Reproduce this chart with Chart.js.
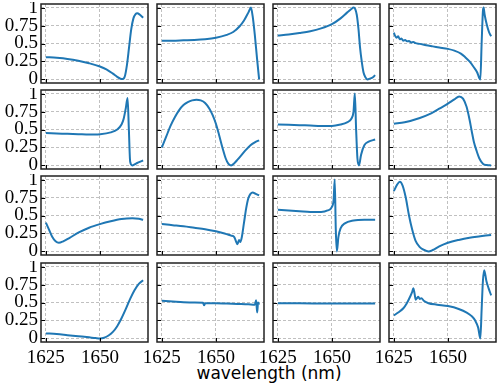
<!DOCTYPE html>
<html>
<head>
<meta charset="utf-8">
<script src="https://cdn.jsdelivr.net/npm/chart.js"></script>
<style>
  body { margin: 0; background: #fff; width: 498px; height: 385px; position: relative; overflow: hidden; }
  canvas { position: absolute; }
  #xlabel { position: absolute; left: 41px; width: 456px; top: 363px; text-align: center;
            font: 17px "DejaVu Sans", sans-serif; color: #000; }
</style>
</head>
<body>
<div id="xlabel">wavelength (nm)</div>
<script>
  const xTicks = [1625, 1650];
  const yTicks = [0, 0.25, 0.5, 0.75, 1];

  // row 1
  const wl00 = [1625, 1630, 1635, 1640, 1645, 1650, 1653, 1656, 1658, 1659.5, 1660.5, 1661.5, 1662.5, 1663.5, 1664.5, 1665.5, 1666.5, 1667.3, 1668.5, 1670];
  const tr00 = [0.31, 0.3, 0.285, 0.26, 0.225, 0.18, 0.14, 0.08, 0.035, 0.01, 0.005, 0.04, 0.2, 0.45, 0.7, 0.85, 0.91, 0.92, 0.9, 0.86];
  const wl01 = [1625, 1630, 1635, 1640, 1645, 1650, 1655, 1658, 1661, 1663, 1665, 1666.2, 1667, 1668, 1669, 1670];
  const tr01 = [0.54, 0.54, 0.545, 0.55, 0.56, 0.58, 0.62, 0.66, 0.74, 0.82, 0.93, 1.0, 0.88, 0.62, 0.3, 0.0];
  const wl02 = [1625, 1630, 1635, 1640, 1645, 1650, 1654, 1657, 1659, 1660, 1660.8, 1661.5, 1662.3, 1663, 1663.8, 1664.6, 1665.5, 1666.5, 1667.5, 1669, 1670];
  const tr02 = [0.61, 0.625, 0.645, 0.67, 0.71, 0.77, 0.85, 0.93, 0.98, 1.0, 0.98, 0.9, 0.7, 0.45, 0.25, 0.1, 0.03, 0.0, 0.01, 0.03, 0.06];
  const wl03 = [1625, 1625.7, 1626.3, 1627, 1627.7, 1628.5, 1629.3, 1630.2, 1631.1, 1632, 1633, 1634, 1635, 1637, 1640, 1643, 1646, 1650, 1653, 1656, 1658, 1660, 1662, 1663.5, 1664.5, 1665, 1665.6, 1666.2, 1666.5, 1667, 1668, 1669, 1670];
  const tr03 = [0.65, 0.6, 0.58, 0.6, 0.56, 0.57, 0.54, 0.55, 0.53, 0.535, 0.515, 0.52, 0.505, 0.495, 0.475, 0.46, 0.445, 0.425, 0.4, 0.36, 0.31, 0.25, 0.17, 0.1, 0.02, 0.0, 0.5, 0.95, 1.0, 0.9, 0.76, 0.66, 0.6];

  // row 2
  const wl10 = [1625, 1630, 1635, 1640, 1645, 1650, 1655, 1658, 1660, 1661, 1662, 1662.8, 1663.4, 1664, 1665, 1667, 1670];
  const tr10 = [0.45, 0.445, 0.44, 0.435, 0.43, 0.435, 0.46, 0.5, 0.57, 0.65, 0.8, 0.94, 0.5, 0.05, 0.0, 0.03, 0.07];
  const wl11 = [1625, 1627, 1629, 1631, 1633, 1635, 1637, 1639, 1641, 1643, 1645, 1647, 1648.5, 1650, 1651.5, 1653, 1654.5, 1655.8, 1657, 1658.5, 1660, 1662, 1664, 1666, 1668, 1670];
  const tr11 = [0.25, 0.4, 0.55, 0.67, 0.77, 0.84, 0.88, 0.905, 0.915, 0.905, 0.87, 0.79, 0.7, 0.58, 0.42, 0.25, 0.1, 0.02, 0.0, 0.03, 0.08, 0.15, 0.22, 0.28, 0.32, 0.35];
  const wl12 = [1625, 1630, 1635, 1640, 1645, 1650, 1654, 1657, 1659, 1660, 1660.6, 1661.2, 1661.8, 1662.5, 1663.5, 1665, 1667, 1670];
  const tr12 = [0.57, 0.565, 0.56, 0.555, 0.55, 0.55, 0.57, 0.6, 0.65, 0.75, 1.0, 0.5, 0.1, 0.0, 0.15, 0.28, 0.33, 0.36];
  const wl13 = [1625, 1630, 1637, 1642, 1646, 1650, 1653, 1655.2, 1657, 1658.6, 1660, 1661, 1662, 1663.3, 1664.5, 1666.3, 1668, 1670];
  const tr13 = [0.58, 0.6, 0.66, 0.72, 0.79, 0.86, 0.92, 0.96, 0.93, 0.82, 0.64, 0.48, 0.33, 0.2, 0.1, 0.02, 0.005, 0.0];

  // row 3
  const wl20 = [1625, 1626.5, 1628, 1629.5, 1631, 1633, 1636, 1640, 1645, 1650, 1655, 1660, 1665, 1668, 1670];
  const tr20 = [0.4, 0.3, 0.2, 0.14, 0.12, 0.14, 0.19, 0.26, 0.33, 0.38, 0.42, 0.45, 0.46, 0.455, 0.44];
  const wl21 = [1625, 1630, 1635, 1640, 1645, 1650, 1654, 1657, 1658.5, 1659.3, 1660, 1660.7, 1661.3, 1662, 1663, 1664, 1665, 1666, 1667, 1668.5, 1670];
  const tr21 = [0.38, 0.365, 0.35, 0.33, 0.31, 0.28, 0.25, 0.22, 0.2, 0.14, 0.1, 0.16, 0.13, 0.2, 0.4, 0.6, 0.74, 0.8, 0.82, 0.8, 0.78];
  const wl22 = [1625, 1630, 1635, 1640, 1645, 1648, 1650, 1650.8, 1651.3, 1651.8, 1652.3, 1653, 1654, 1656, 1660, 1665, 1670];
  const tr22 = [0.58, 0.57, 0.56, 0.55, 0.55, 0.57, 0.62, 0.72, 1.0, 0.3, 0.0, 0.2, 0.32, 0.39, 0.43, 0.44, 0.44];
  const wl23 = [1625, 1626.5, 1627.8, 1629, 1630.5, 1632, 1633.5, 1635, 1637, 1639, 1641, 1643, 1646, 1650, 1655, 1660, 1665, 1670];
  const tr23 = [0.84, 0.93, 0.97, 0.92, 0.75, 0.5, 0.3, 0.15, 0.06, 0.02, 0.0, 0.02, 0.07, 0.12, 0.16, 0.19, 0.21, 0.23];

  // row 4
  const wl30 = [1625, 1630, 1635, 1640, 1645, 1648, 1650, 1652, 1654, 1656, 1658, 1660, 1662, 1664, 1666, 1668, 1670];
  const tr30 = [0.07, 0.06, 0.045, 0.03, 0.015, 0.005, 0.0, 0.01, 0.04, 0.09, 0.17, 0.28, 0.41, 0.55, 0.67, 0.76, 0.81];
  const wl31 = [1625, 1630, 1635, 1640, 1644, 1644.6, 1645, 1650, 1655, 1660, 1665, 1668, 1668.6, 1669.1, 1669.5, 1670];
  const tr31 = [0.525, 0.515, 0.505, 0.5, 0.495, 0.46, 0.49, 0.49, 0.485, 0.48, 0.475, 0.47, 0.53, 0.36, 0.5, 0.47];
  const wl32 = [1625, 1635, 1645, 1655, 1670];
  const tr32 = [0.49, 0.488, 0.487, 0.486, 0.485];
  const wl33 = [1625, 1627, 1629.4, 1631, 1632.5, 1633.5, 1634, 1634.6, 1635.1, 1635.7, 1636.3, 1637, 1637.7, 1639, 1641, 1645, 1650, 1655, 1658.7, 1661, 1662.6, 1664, 1665, 1665.6, 1666.2, 1666.8, 1667.8, 1668.8, 1670];
  const tr33 = [0.32, 0.36, 0.42, 0.49, 0.58, 0.65, 0.7, 0.62, 0.54, 0.56, 0.58, 0.55, 0.56, 0.52, 0.49, 0.47, 0.45, 0.41, 0.36, 0.31, 0.25, 0.15, 0.0, 0.4, 0.8, 0.95, 0.8, 0.7, 0.6];

  const panels = [
    [wl00, tr00], [wl01, tr01], [wl02, tr02], [wl03, tr03],
    [wl10, tr10], [wl11, tr11], [wl12, tr12], [wl13, tr13],
    [wl20, tr20], [wl21, tr21], [wl22, tr22], [wl23, tr23],
    [wl30, tr30], [wl31, tr31], [wl32, tr32], [wl33, tr33],
  ];

  const colLeft = [41, 157, 273, 389];
  const rowTop = [4, 90, 176, 263];
  const panelW = 107;
  const panelH = 79;
  const pad = 2;

  // black frame + short inward tick marks, like matplotlib
  const framePlugin = {
    id: 'frame',
    afterDraw(chart) {
      const ctx = chart.ctx;
      const a = chart.chartArea;
      const xs = chart.scales.x, ys = chart.scales.y;
      ctx.save();
      ctx.strokeStyle = '#000';
      ctx.lineWidth = 1;
      ctx.beginPath();
      xTicks.forEach(v => {
        const px = Math.round(xs.getPixelForValue(v)) + 0.5;
        ctx.moveTo(px, a.bottom); ctx.lineTo(px, a.bottom - 4);
      });
      yTicks.forEach(v => {
        const py = Math.round(ys.getPixelForValue(v)) + 0.5;
        ctx.moveTo(a.left, py); ctx.lineTo(a.left + 4, py);
      });
      ctx.stroke();
      ctx.lineWidth = 1.5;
      ctx.strokeStyle = '#222';
      ctx.strokeRect(a.left, a.top, a.right - a.left, a.bottom - a.top);
      ctx.restore();
    }
  };

  const gridStyle = { color: '#b0b0b0', lineWidth: 0.8, drawTicks: false };
  const tickFont = { family: '"Liberation Serif", serif', size: 19 };

  panels.forEach((p, k) => {
    const r = Math.floor(k / 4), c = k % 4;
    // left room for y labels, or for the half of "1625" that hangs off the bottom row
    const yw = c === 0 ? 41 : (r === 3 ? 20 : pad);
    const xh = r === 3 ? 30 : pad;
    const cv = document.createElement('canvas');
    const w = yw + panelW + pad, h = pad + panelH + xh;
    cv.width = w; cv.height = h;
    cv.style.left = (colLeft[c] - yw) + 'px';
    cv.style.top = (rowTop[r] - pad) + 'px';
    cv.style.width = w + 'px'; cv.style.height = h + 'px';
    document.body.appendChild(cv);

    new Chart(cv, {
      type: 'line',
      data: {
        datasets: [{
          data: p[0].map((x, i) => ({ x: x, y: p[1][i] })),
          borderColor: '#1f77b4',
          borderWidth: 2,
          pointRadius: 0,
          cubicInterpolationMode: 'monotone',
          fill: false,
        }],
      },
      options: {
        responsive: false,
        animation: false,
        devicePixelRatio: 1,
        layout: { padding: { top: pad, right: pad, left: 0, bottom: 0 } },
        plugins: { legend: { display: false }, tooltip: { enabled: false } },
        scales: {
          x: {
            type: 'linear',
            min: 1622.75,
            max: 1672.25,
            afterBuildTicks: s => { s.ticks = xTicks.map(v => ({ value: v })); },
            afterFit: s => { s.height = xh; s.paddingLeft = 0; s.paddingRight = 0; },
            grid: Object.assign({}, gridStyle),
            border: { display: false, dash: [3, 2] },
            ticks: {
              display: r === 3,
              autoSkip: false,
              padding: 5,
              maxRotation: 0,
              color: '#000',
              font: tickFont,
              callback: v => String(v),
            },
          },
          y: {
            min: -0.05,
            max: 1.05,
            afterBuildTicks: s => { s.ticks = yTicks.map(v => ({ value: v })); },
            afterFit: s => { s.width = yw; s.paddingTop = 0; s.paddingBottom = 0; },
            grid: Object.assign({}, gridStyle),
            border: { display: false, dash: [3, 2] },
            ticks: {
              display: c === 0,
              autoSkip: false,
              padding: 3,
              color: '#000',
              font: tickFont,
              callback: v => String(v),
            },
          },
        },
      },
      plugins: [framePlugin],
    });
  });
</script>
</body>
</html>
